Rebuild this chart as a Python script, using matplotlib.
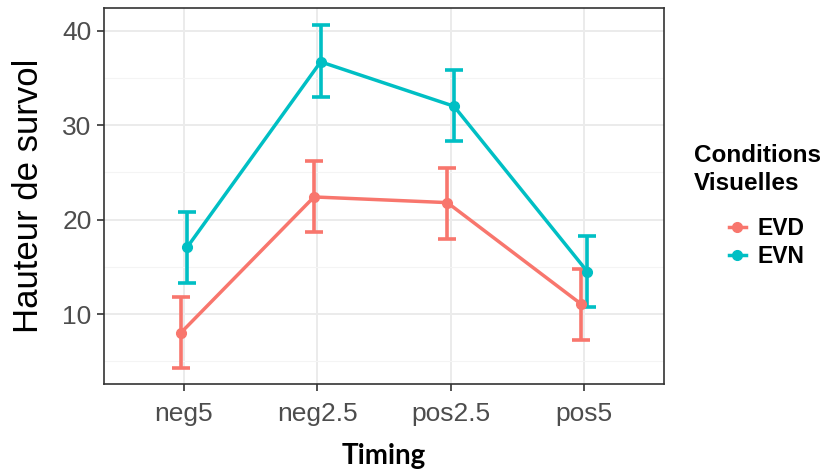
import numpy as np
import matplotlib.pyplot as plt
from matplotlib.lines import Line2D

timing = ["neg5", "neg2.5", "pos2.5", "pos5"]
conditions = ["EVD", "EVN"]
colors = {"EVD": "#F8766D", "EVN": "#00BFC4"}

# mean and error bar bounds
evd_mean = [8.0, 22.4, 21.8, 11.1]
evd_low = [4.3, 18.7, 18.0, 7.3]
evd_high = [11.8, 26.2, 25.5, 14.8]
evn_mean = [17.1, 36.7, 32.0, 14.5]
evn_low = [13.3, 33.0, 28.3, 10.8]
evn_high = [20.8, 40.6, 35.8, 18.3]

fig = plt.figure(figsize=(8.26, 4.72), dpi=100)
ax = fig.add_axes([104/826, 1-384/472, 560/826, 376/472])

x = np.arange(1, len(timing)+1)
dodge = 0.025
series = {
    "EVD": (evd_mean, evd_low, evd_high, -dodge),
    "EVN": (evn_mean, evn_low, evn_high, dodge),
}
for name in conditions:
    m, lo, hi, dx = series[name]
    m, lo, hi = np.array(m), np.array(lo), np.array(hi)
    ax.errorbar(x+dx, m, yerr=[m-lo, hi-m], fmt="none", ecolor=colors[name],
                elinewidth=2.6, capsize=6.8, capthick=2.6, zorder=3)
    ax.plot(x+dx, m, color=colors[name], lw=2.5, marker="o", ms=7, zorder=4)

ax.set_xlim(0.4, 4.6)
ax.set_ylim(2.6, 42.4)
ax.set_xticks(x)
ax.set_xticklabels(timing)
ax.set_yticks([10, 20, 30, 40])
ax.set_yticks([5, 15, 25, 35], minor=True)
ax.set_xticks([], minor=True)
ax.grid(True, which="major", color="#EBEBEB", lw=1.4, zorder=0)
ax.grid(True, which="minor", axis="y", color="#F4F4F4", lw=0.8, zorder=0)
ax.set_axisbelow(True)
for s in ax.spines.values():
    s.set_color("#333333")
    s.set_linewidth(1.2)
ax.tick_params(which="major", length=5, width=1.2, color="#333333",
               labelsize=19, labelcolor="#4D4D4D")
ax.tick_params(axis="x", pad=8)
ax.tick_params(axis="y", pad=4)
ax.tick_params(which="minor", length=0)
for lab in ax.get_xticklabels() + ax.get_yticklabels():
    lab.set_family("Liberation Sans")

ax.set_ylabel("Hauteur de survol", fontsize=25, family="Liberation Sans", labelpad=12)
ax.set_xlabel("Timing", fontsize=20, family="Lato", fontweight="bold", labelpad=12)

# legend title drawn as two text lines, entries as a legend
tfont = {"family": "Liberation Sans", "weight": "bold", "size": 17.5}
fig.text(694/826, 1-155/472, "Conditions", va="center", ha="left", **tfont)
fig.text(694/826, 1-183/472, "Visuelles", va="center", ha="left", **tfont)

handles = [Line2D([0], [0], color=colors[c], lw=2.5, marker="o", ms=7) for c in conditions]
leg = fig.legend(handles, conditions, loc="center left", bbox_to_anchor=(708/826, 1-242.5/472),
                 frameon=False, handlelength=0.74, handletextpad=0.5, labelspacing=0.25,
                 prop={"family": "Liberation Sans", "weight": "bold", "size": 16.5})

fig.savefig("out.png", dpi=100)
